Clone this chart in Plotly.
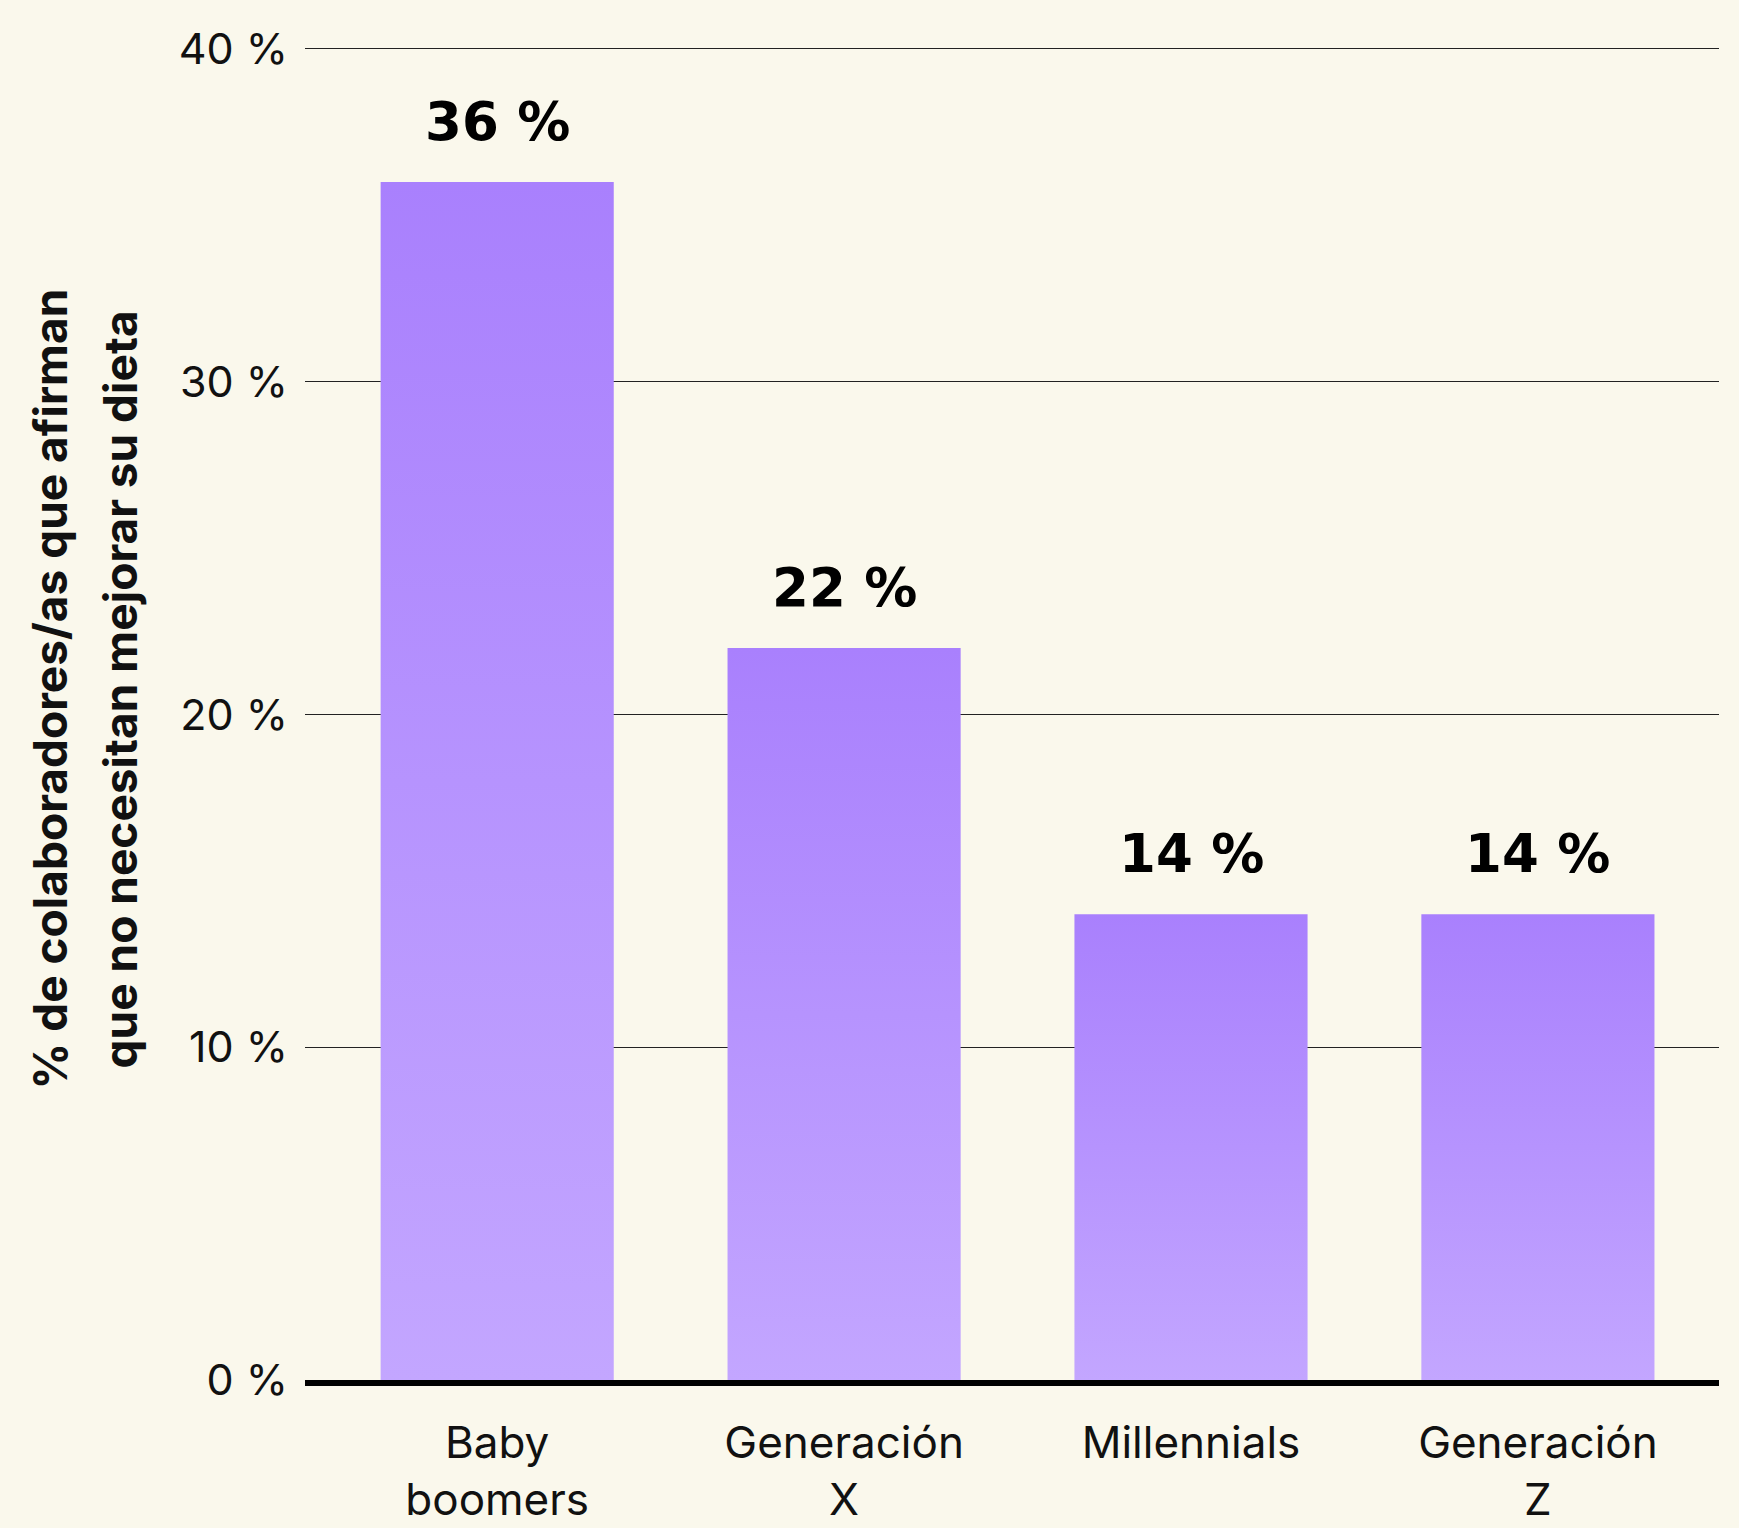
import plotly.graph_objects as go

# Share of employees who say they don't need to improve their diet, by generation
categories = ["Baby<br>boomers", "Generación<br>X", "Millennials", "Generación<br>Z"]
values = [36, 22, 14, 14]
y_ticks = [0, 10, 20, 30, 40]
y_tick_labels = [f"{t} %" for t in y_ticks]
y_title_lines = ["% de colaboradores/as que afirman", "que no necesitan mejorar su dieta"]

BG = "#FAF8EC"
BAR_TOP = "#A980FD"
BAR_BOTTOM = "#C3A6FF"
BAR_WIDTH = 0.672

fig = go.Figure()

# Bars as filled rectangles so each one can carry its own vertical gradient
for i, v in enumerate(values):
    hw = BAR_WIDTH / 2
    fig.add_trace(go.Scatter(
        x=[i - hw, i + hw, i + hw, i - hw, i - hw],
        y=[0, 0, v, v, 0],
        mode="none",
        fill="toself",
        fillgradient=dict(type="vertical",
                          colorscale=[[0, BAR_BOTTOM], [1, BAR_TOP]]),
        hoverinfo="skip",
        showlegend=False,
    ))
    fig.add_annotation(
        x=i, y=v, text=f"{v} %", showarrow=False,
        xanchor="center", yanchor="bottom", yshift=28,
        font=dict(family="DejaVu Sans", size=53, color="#000000", weight="bold"),
    )

# Two-line rotated y-axis title
for line, shift in zip(y_title_lines, [-255, -185]):
    fig.add_annotation(
        x=0, y=0.515, xref="paper", yref="paper", text=line,
        showarrow=False, textangle=-90, xanchor="center", yanchor="middle",
        xshift=shift,
        font=dict(family="Inter", size=46, color="#111111", weight="bold"),
    )

fig.update_layout(
    width=1739, height=1528,
    margin=dict(l=305, r=20, t=39, b=148, autoexpand=False),
    paper_bgcolor=BG, plot_bgcolor=BG,
    showlegend=False,
    xaxis=dict(
        range=[-0.554, 3.522], automargin=False,
        tickmode="array", tickvals=list(range(len(categories))), ticktext=categories,
        showgrid=False, zeroline=False,
        showline=True, linewidth=6, linecolor="#000000",
        ticks="", ticklabelstandoff=19,
        tickfont=dict(family="Inter", size=44, color="#111111"),
        fixedrange=True,
    ),
    yaxis=dict(
        range=[0, 40.3], automargin=False,
        tickmode="array", tickvals=y_ticks, ticktext=y_tick_labels,
        showgrid=True, gridcolor="#222222", gridwidth=1.3,
        zeroline=False, showline=False, ticks="", ticklabelstandoff=16,
        tickfont=dict(family="Inter", size=43, color="#111111"),
        fixedrange=True,
    ),
)

fig.write_html("out.html")
